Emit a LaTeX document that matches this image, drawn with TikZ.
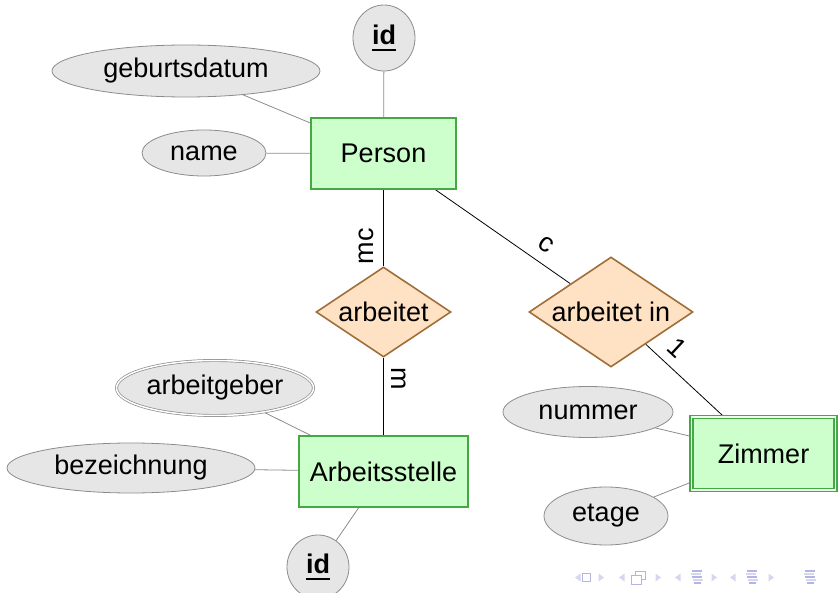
\documentclass[tikz,border=0pt]{standalone}
\usepackage{fontspec}
\setmainfont{Liberation Sans}
\usetikzlibrary{shapes.geometric,backgrounds}
\definecolor{attrfill}{HTML}{E6E6E6}
\definecolor{attrline}{HTML}{8C8C8C}
\definecolor{entfill}{HTML}{CCFFCC}
\definecolor{entline}{HTML}{44A844}
\definecolor{relfill}{HTML}{FFE2C4}
\definecolor{relline}{HTML}{A06E38}
\definecolor{navlight}{HTML}{D6D6F0}
\definecolor{navdark}{HTML}{B4B4E6}
\newcommand\keyul[1]{\setbox0\hbox{\bfseries #1}\rlap{\rule[-6pt]{\wd0}{2pt}}\box0}
\begin{document}
\begin{tikzpicture}[x=1pt,y=-1pt,
  font=\fontsize{27}{32}\selectfont,
  attr/.style={ellipse, draw=attrline, fill=attrfill, line width=0.8pt, inner sep=0pt},
  entity/.style={rectangle, draw=entline, fill=entfill, line width=1.6pt, inner sep=0pt},
  rel/.style={diamond, draw=relline, fill=relfill, line width=1.6pt, inner sep=0pt, aspect=1.5},
  attredge/.style={draw=attrline, line width=0.8pt},
  reledge/.style={draw=black, line width=0.8pt},
  card/.style={anchor=south},
  navtri/.style={fill=navlight},
  navline/.style={draw=navdark, line width=1.4pt}]
\useasboundingbox (0,0) rectangle (838,593);

% entities
\node[entity, minimum width=145pt, minimum height=71pt] (person) at (383.5,153.5) {Person};
\node[entity, minimum width=169pt, minimum height=71pt] (stelle) at (383.5,471.5) {Arbeitsstelle};
\node[entity, minimum width=144pt, minimum height=73pt, line width=1.3pt,
      double=white!60!entfill, double distance=1.6pt] (zimmer) at (763.5,453.5) {Zimmer};

% relationships
\node[rel, minimum width=135pt, minimum height=90pt] (arbeitet) at (383.5,312) {arbeitet};
\node[rel, minimum width=164pt, minimum height=110pt] (arbin) at (611,312) {arbeitet in};

% attributes
\node[attr, minimum width=62pt, minimum height=66pt] (idtop) at (384,38) {\keyul{id}};
\node[attr, minimum width=268pt, minimum height=52pt] (geb) at (186,71) {geburtsdatum};
\node[attr, minimum width=124pt, minimum height=46pt] (name) at (204,153) {name};
\node[attr, minimum width=197pt, minimum height=55pt, line width=0.7pt,
      double=white, double distance=1.5pt] (geber) at (215,388) {arbeitgeber};
\node[attr, minimum width=248pt, minimum height=50pt] (bez) at (131,468) {bezeichnung};
\node[attr, minimum width=62pt, minimum height=64pt] (idbot) at (318,567) {\keyul{id}};
\node[attr, minimum width=170pt, minimum height=51pt] (nummer) at (588,412) {nummer};
\node[attr, minimum width=124pt, minimum height=58pt] (etage) at (606,516) {etage};

% connectors
\begin{scope}[on background layer]
\draw[attredge] (idtop) -- (person);
\draw[attredge] (geb) -- (person);
\draw[attredge] (name) -- (person);
\draw[attredge] (geber) -- (stelle);
\draw[attredge] (bez) -- (stelle);
\draw[attredge] (idbot) -- (stelle);
\draw[attredge] (nummer) -- (zimmer);
\draw[attredge] (etage) -- (zimmer);
\draw[reledge] (person) -- node[card, pos=0.74, rotate=90, inner sep=9.5pt] {mc} (arbeitet);
\draw[reledge] (arbeitet) -- node[card, pos=0.27, rotate=-90, inner sep=8pt] {m} (stelle);
\draw[reledge] (person) -- node[card, pos=0.74, sloped, inner sep=10.5pt] {c} (arbin);
\draw[reledge] (arbin) -- node[card, pos=0.24, sloped, inner sep=9pt] {1} (zimmer);
\end{scope}

% beamer navigation symbols
\fill[navtri] (580.5,573.5) -- (575,577.5) -- (580.5,581.5) -- cycle;
\draw[draw=navdark, line width=1pt] (582.5,573) rectangle (590.5,581.5);
\fill[navtri] (598.5,573.5) -- (604,577.5) -- (598.5,581.5) -- cycle;
\fill[navtri] (624.5,573.5) -- (619,577.5) -- (624.5,581.5) -- cycle;
\draw[draw=navdark, line width=1pt] (635,571) rectangle (645,579.5);
\draw[draw=navdark, fill=white, line width=1pt] (631.5,575) rectangle (641.5,584);
\fill[navtri] (655.5,573.5) -- (661,577.5) -- (655.5,581.5) -- cycle;
\fill[navtri] (680.5,573.5) -- (675,577.5) -- (680.5,581.5) -- cycle;
\foreach \cx in {697,752,810}{
  \draw[navline] (\cx-5,571) -- (\cx+5,571);
  \draw[navline, draw=navlight] (\cx-6,574) -- (\cx+4,574);
  \draw[navline] (\cx-5,577) -- (\cx+5,577);
  \draw[navline, draw=navlight] (\cx-4,580) -- (\cx+6,580);
  \draw[navline] (\cx-3,583) -- (\cx+4,583);
}
\fill[navtri] (711.5,573.5) -- (717,577.5) -- (711.5,581.5) -- cycle;
\fill[navtri] (735.5,573.5) -- (730,577.5) -- (735.5,581.5) -- cycle;
\fill[navtri] (768.5,573.5) -- (774,577.5) -- (768.5,581.5) -- cycle;
\end{tikzpicture}
\end{document}
